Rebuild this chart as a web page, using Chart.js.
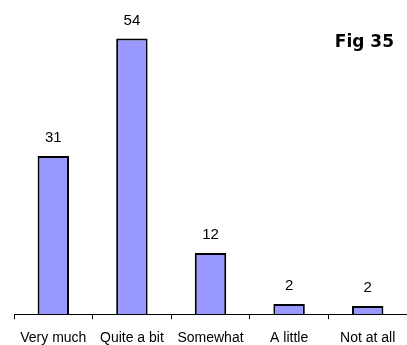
<!DOCTYPE html>
<html>
<head>
<meta charset="utf-8">
<script src="https://cdn.jsdelivr.net/npm/chart.js@4/dist/chart.umd.min.js"></script>
<style>
  html, body { margin: 0; padding: 0; background: #fff; }
  #wrap { width: 407px; height: 345px; position: relative; }
</style>
</head>
<body>
<div id="wrap"><canvas id="chart"></canvas></div>
<script>
const categories = ['Very much', 'Quite a bit', 'Somewhat', 'A little', 'Not at all'];
const values = [31, 54, 12, 2, 1.6];
const figTitle = 'Fig 35';

// numbers above the bars
const valueLabels = {
    id: 'valueLabels',
    afterDatasetsDraw(chart) {
        const ctx = chart.ctx;
        const meta = chart.getDatasetMeta(0);
        ctx.save();
        ctx.fillStyle = '#000';
        ctx.font = '15px "Liberation Sans", Arial, sans-serif';
        ctx.textAlign = 'center';
        ctx.textBaseline = 'alphabetic';
        meta.data.forEach((bar, i) => {
            ctx.fillText(String(Math.round(values[i])), bar.x, bar.y - 14);
        });
        ctx.restore();
    }
};

const figLabel = {
    id: 'figLabel',
    afterDraw(chart) {
        const ctx = chart.ctx;
        ctx.save();
        ctx.fillStyle = '#000';
        ctx.font = 'bold 17px "DejaVu Sans", Verdana, sans-serif';
        ctx.textAlign = 'right';
        ctx.textBaseline = 'middle';
        ctx.fillText(figTitle, 394, 43);
        ctx.restore();
    }
};

new Chart(document.getElementById('chart'), {
    type: 'bar',
    data: {
        labels: categories,
        datasets: [{
            data: values,
            backgroundColor: '#9999ff',
            borderColor: '#000',
            borderWidth: 2,
            categoryPercentage: 1,
            barPercentage: 0.4
        }]
    },
    options: {
        responsive: true,
        maintainAspectRatio: false,
        animation: false,
        layout: { padding: { left: 14, right: 0, top: 8, bottom: -13 } },
        plugins: {
            legend: { display: false },
            tooltip: { enabled: false }
        },
        scales: {
            x: {
                grid: {
                    display: true,
                    drawOnChartArea: false,
                    drawTicks: true,
                    tickLength: 5,
                    color: '#000'
                },
                border: { display: true, color: '#000', width: 1 },
                ticks: {
                    color: '#000',
                    padding: 11,
                    maxRotation: 0,
                    autoSkip: false,
                    font: { family: '"Liberation Sans", Arial, sans-serif', size: 14 }
                }
            },
            y: {
                display: false,
                min: 0,
                max: 60
            }
        }
    },
    plugins: [valueLabels, figLabel]
});
</script>
</body>
</html>
